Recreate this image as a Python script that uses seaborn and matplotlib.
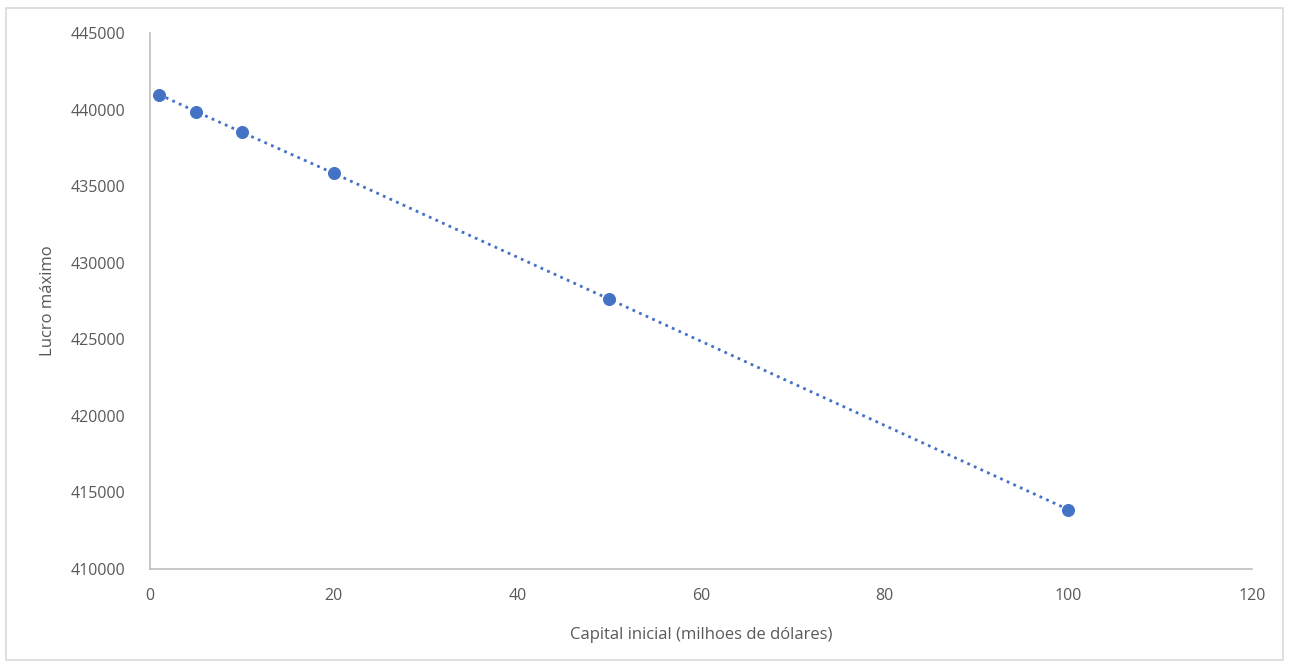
import matplotlib
matplotlib.use("Agg")
import matplotlib.pyplot as plt
import seaborn as sns
import pandas as pd
from matplotlib.patches import Rectangle

# Data
capital = [1, 5, 10, 20, 50, 100]
lucro = [440980, 439870, 438520, 435840, 427620, 413880]

x_ticks = [0, 20, 40, 60, 80, 100, 120]
y_ticks = [410000, 415000, 420000, 425000, 430000, 435000, 440000, 445000]

df = pd.DataFrame({"capital": capital, "lucro": lucro})

sns.set_theme(style="white")
plt.rcParams["font.family"] = ["Open Sans", "DejaVu Sans"]

blue = "#4472C4"
grey_txt = "#595959"
axis_col = "#BFBFBF"

fig = plt.figure(figsize=(12.89, 6.66), dpi=100)
ax = fig.add_axes([0.1164, 0.1456, 0.8549, 0.8049])

sns.lineplot(data=df, x="capital", y="lucro", ax=ax, color=blue,
             linestyle=(0, (1, 1.6)), linewidth=2.0)
sns.scatterplot(data=df, x="capital", y="lucro", ax=ax, color=blue,
                s=75, edgecolor=blue, zorder=3)

ax.set_xlim(0, 120)
ax.set_ylim(410000, 445000)
ax.set_xticks(x_ticks)
ax.set_yticks(y_ticks)
ax.tick_params(axis="both", colors=grey_txt, labelsize=11.5, length=0, pad=14)
ax.tick_params(axis="y", pad=18)

for side in ["top", "right"]:
    ax.spines[side].set_visible(False)
for side in ["left", "bottom"]:
    ax.spines[side].set_color(axis_col)
    ax.spines[side].set_linewidth(1.2)

ax.set_xlabel("Capital inicial (milhoes de dólares)", fontsize=12, color=grey_txt, labelpad=16)
ax.set_ylabel("Lucro máximo", fontsize=12, color=grey_txt)
ax.yaxis.set_label_coords(-0.085, 0.5)

# outer chart border
fig.patches.append(Rectangle((6 / 1289, 6 / 666), 1277 / 1289, 652 / 666,
                             transform=fig.transFigure, fill=False,
                             edgecolor="#D9D9D9", linewidth=1.2))

fig.savefig("out.png", dpi=100)
